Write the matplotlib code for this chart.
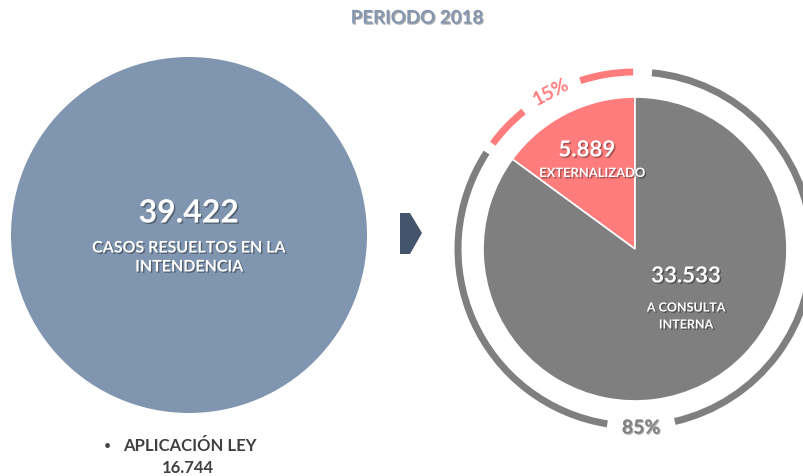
import math
import matplotlib
matplotlib.use("Agg")
import matplotlib.pyplot as plt
import matplotlib.patheffects as pe
from matplotlib.patches import Circle, Wedge, Polygon

# ---------------- data ----------------
title = "PERIODO 2018"
total_value = 39422
total_label = "CASOS RESUELTOS EN LA\nINTENDENCIA"
categories = ["EXTERNALIZADO", "A CONSULTA\nINTERNA"]
values = [5889, 33533]
colors = ["#FF7C7C", "#7F7F7F"]
ley_label = "APLICACIÓN LEY"
ley_value = 16744

def fmt(v):
    return f"{v:,}".replace(",", ".")

W, H = 804, 476
FONT = "Lato"
plt.rcParams["font.family"] = [FONT, "DejaVu Sans"]

fig = plt.figure(figsize=(W / 100, H / 100), dpi=100)
ax = fig.add_axes([0, 0, 1, 1])

def Y(py):
    return H - py

shadow = [pe.withSimplePatchShadow(offset=(1, -1), shadow_rgbFace="black", alpha=0.35)]
shadow_light = [pe.withSimplePatchShadow(offset=(0.8, -0.8), shadow_rgbFace="#404040", alpha=0.45)]

# ---------------- title ----------------
ax.text(417, Y(18), title, ha="center", va="center", fontsize=13.5, fontweight="bold",
        color="#8496B0", path_effects=shadow_light)

# ---------------- left circle (total) ----------------
ax.add_patch(Circle((189, Y(235)), 178, facecolor="#8096B0", edgecolor="none"))
ax.text(189, Y(213), fmt(total_value), ha="center", va="center", fontsize=23,
        fontweight="bold", color="white", path_effects=shadow)
ax.text(189, Y(258), total_label, ha="center", va="center", fontsize=11.5,
        fontweight="bold", color="white", linespacing=1.45, path_effects=shadow)

# bottom note
ax.text(107, Y(446), "•", ha="center", va="center", fontsize=9, color="#404040")
ax.text(190, Y(446), ley_label, ha="center", va="center", fontsize=12,
        fontweight="bold", color="#404040")
ax.text(188, Y(468), fmt(ley_value), ha="center", va="center", fontsize=12,
        fontweight="bold", color="#404040")

# ---------------- arrow ----------------
ax.add_patch(Polygon([(400, Y(213)), (410, Y(213)), (422, Y(233)), (410, Y(254)),
                      (400, Y(254))], closed=True, facecolor="#44546A", edgecolor="none"))

# ---------------- pie ----------------
cx, cy, r = 635, Y(249), 152
ax.pie(values, colors=colors, startangle=90, counterclock=True, radius=r,
       center=(cx, cy), wedgeprops=dict(edgecolor="white", linewidth=1.2), frame=True)

tot = sum(values)
fracs = [v / tot for v in values]
pcts = [f"{round(f * 100)}%" for f in fracs]

ax.text(587, Y(150), fmt(values[0]), ha="center", va="center", fontsize=16,
        fontweight="bold", color="white", path_effects=shadow)
ax.text(592, Y(173), categories[0], ha="center", va="center", fontsize=9.3,
        fontweight="bold", color="white", path_effects=shadow)
ax.text(686, Y(276), fmt(values[1]), ha="center", va="center", fontsize=16,
        fontweight="bold", color="white", path_effects=shadow)
ax.text(686, Y(316), categories[1], ha="center", va="center", fontsize=9,
        fontweight="bold", color="white", linespacing=1.5, path_effects=shadow)

# ---------------- outer ring ----------------
rr, rw = 180.5, 7
a0 = 90.0
a1 = 90.0 + fracs[0] * 360.0
red_mid = 118.0
ax.add_patch(Wedge((cx, cy), rr, a0 + 0.6, 108, width=rw, facecolor=colors[0], edgecolor="none"))
ax.add_patch(Wedge((cx, cy), rr, 129, a1 - 0.3, width=rw, facecolor=colors[0], edgecolor="none"))
ax.add_patch(Wedge((cx, cy), rr, a1 + 3.2, 261, width=rw, facecolor=colors[1], edgecolor="none"))
ax.add_patch(Wedge((cx, cy), rr, 283, 360 + 84.5, width=rw, facecolor=colors[1], edgecolor="none"))

rm = rr - rw / 2 + 1
ax.text(cx + rm * math.cos(math.radians(red_mid)), cy + rm * math.sin(math.radians(red_mid)),
        pcts[0], ha="center", va="center", rotation=red_mid - 90, fontsize=14,
        fontweight="bold", color=colors[0], rotation_mode="anchor")
ax.text(641, Y(428), pcts[1], ha="center", va="center", fontsize=14,
        fontweight="bold", color=colors[1], path_effects=shadow_light)

ax.set_xlim(0, W)
ax.set_ylim(0, H)
ax.set_aspect("auto")
ax.axis("off")

fig.savefig("out.png", dpi=100, facecolor="white")
